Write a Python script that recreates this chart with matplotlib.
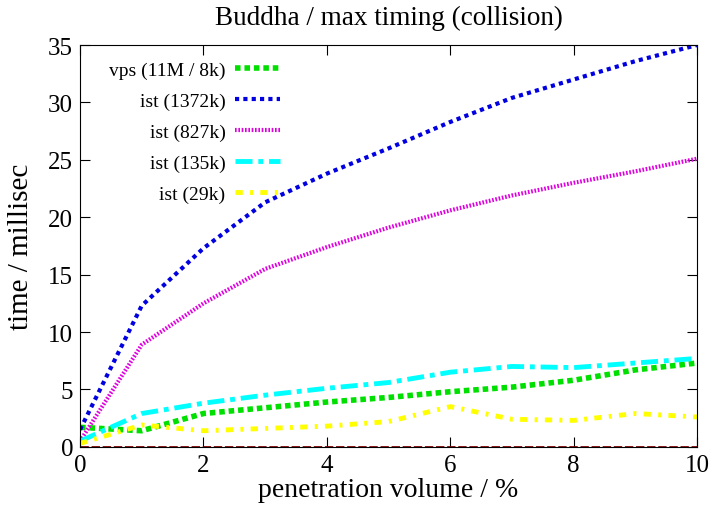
import numpy as np
import matplotlib.pyplot as plt

plt.rcParams['font.family'] = ['Liberation Serif', 'DejaVu Serif']

# penetration volume (%)
x = [0, 1, 2, 3, 4, 5, 6, 7, 8, 9, 10]

# max timing in millisec per series
vps_11m = [1.7, 1.4, 2.9, 3.4, 3.9, 4.3, 4.8, 5.2, 5.8, 6.7, 7.3]
ist_1372k = [1.5, 12.3, 17.3, 21.3, 23.8, 26.0, 28.3, 30.4, 32.0, 33.6, 35.0]
ist_827k = [0.5, 8.9, 12.5, 15.5, 17.4, 19.1, 20.6, 21.9, 23.0, 24.0, 25.1]
ist_135k = [0.5, 2.9, 3.8, 4.5, 5.1, 5.6, 6.5, 7.0, 6.9, 7.3, 7.7]
ist_29k = [0.3, 1.9, 1.4, 1.6, 1.8, 2.2, 3.5, 2.4, 2.3, 2.9, 2.6]

labels = ['vps (11M / 8k)', 'ist (1372k)', 'ist (827k)', 'ist (135k)', 'ist (29k)']

fig = plt.figure(figsize=(7.15, 5.06), dpi=100)
ax = fig.add_axes([0.112, 0.115, 0.863, 0.794])

ax.axhline(0, color='#800000', lw=2, ls=(0, (3, 1)))

ax.plot(x, vps_11m, color='#00e000', lw=4, ls=(0, (1, 0.7)), label=labels[0])
ax.plot(x, ist_1372k, color='#0000e0', lw=3, ls=(0, (1, 1)), label=labels[1])
ax.plot(x, ist_827k, color='#e000e0', lw=3, ls=(0, (0.4, 0.4)), label=labels[2])
ax.plot(x, ist_135k, color='#00ffff', lw=3.5, ls=(0, (3.5, 1.2, 1, 1.2)), label=labels[3])
ax.plot(x, ist_29k, color='#ffff00', lw=3.5, ls=(0, (1.5, 1.5, 0.6, 1.5)), label=labels[4])

ax.set_xlim(0, 10)
ax.set_ylim(0, 35)
ax.set_xticks(range(0, 11, 2))
ax.set_yticks(range(0, 36, 5))
ax.tick_params(direction='in', length=7, top=True, right=True, labelsize=18, pad=5)

ax.set_title('Buddha / max timing (collision)', fontsize=19.5, pad=15)
ax.set_xlabel('penetration volume / %', fontsize=20, labelpad=1)
ax.set_ylabel('time / millisec', fontsize=21, labelpad=10)

ax.legend(loc='upper left', markerfirst=False, frameon=False, fontsize=14,
          handlelength=2.3, handletextpad=0.5, labelspacing=0.68,
          borderaxespad=0.45, bbox_to_anchor=(0.02, 1.0))

fig.savefig('out.png', dpi=100)
